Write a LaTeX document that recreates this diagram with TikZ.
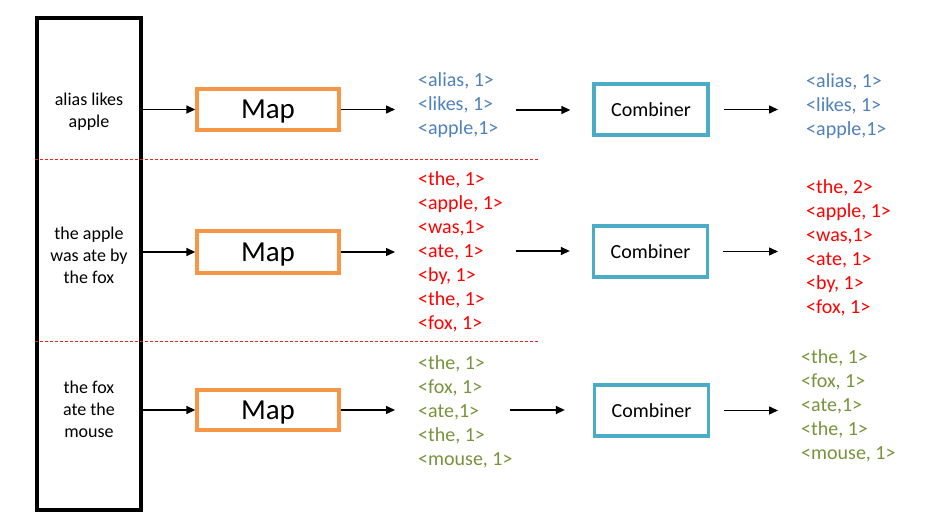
\documentclass[tikz,border=0pt]{standalone}
\usepackage{fontspec}
\setmainfont{Carlito}
\usetikzlibrary{arrows.meta}
\definecolor{maporange}{HTML}{F79646}
\definecolor{combblue}{HTML}{4BACC6}
\definecolor{kvblue}{HTML}{4F81BD}
\definecolor{kvred}{HTML}{FF0000}
\definecolor{kvgreen}{HTML}{77933C}
\definecolor{sepred}{HTML}{F02020}
\begin{document}
\begin{tikzpicture}[x=1pt,y=-1pt,
 srcbox/.style={draw=black, line width=3.8pt, minimum width=104pt, minimum height=492pt, inner sep=0pt},
 srctext/.style={align=center, inner sep=0pt, font=\fontsize{18}{22}\selectfont},
 mapbox/.style={draw=maporange, line width=3.3pt, minimum width=142pt, minimum height=41pt, inner sep=0pt, text depth=0pt, font=\fontsize{29}{32}\selectfont},
 combbox/.style={draw=combblue, line width=3.3pt, minimum width=114pt, minimum height=51pt, inner sep=0pt, text depth=0pt, font=\fontsize{20}{24}\selectfont},
 kvlist/.style={align=left, anchor=west, inner sep=0pt, font=\fontsize{20}{24}\selectfont},
 arr/.style={-{Triangle[length=9pt,width=8pt]}, line width=1.4pt},
 sep/.style={draw=sepred, line width=1.1pt, dash pattern=on 3pt off 2pt}]
\useasboundingbox (0,0) rectangle (926,518);

% separators
\coordinate (e1) at (538,159.5);
\coordinate (e2) at (538,341.5);
\node[srcbox] (src) at (89,264) {};
\draw[sep] (src.west |- e1) -- (e1);
\draw[sep] (src.west |- e2) -- (e2);

% source texts
\node[srctext] (t1) at (89,112) {alias likes\\apple};
\node[srctext] (t2) at (89,255) {the apple\\was ate by\\the fox};
\node[srctext] (t3) at (89,409) {the fox\\ate the\\mouse};

% map boxes
\node[mapbox] (m1) at (268,109.5) {Map};
\node[mapbox, minimum height=42pt] (m2) at (268,252) {Map};
\node[mapbox, minimum height=40pt] (m3) at (268,410) {Map};

% map outputs
\node[kvlist, text=kvblue] (l1) at (418,105) {<alias, 1>\\<likes, 1>\\<apple,1>};
\node[kvlist, text=kvred] (l2) at (418,252) {<the, 1>\\<apple, 1>\\<was,1>\\<ate, 1>\\<by, 1>\\<the, 1>\\<fox, 1>};
\node[kvlist, text=kvgreen] (l3) at (418,411.5) {<the, 1>\\<fox, 1>\\<ate,1>\\<the, 1>\\<mouse, 1>};

% combiners
\node[combbox] (c1) at (651,109.5) {Combiner};
\node[combbox] (c2) at (650.5,251.5) {Combiner};
\node[combbox] (c3) at (651.5,410.5) {Combiner};

% combiner outputs
\node[kvlist, text=kvblue] (o1) at (806,106) {<alias, 1>\\<likes, 1>\\<apple,1>};
\node[kvlist, text=kvred] (o2) at (806,247.5) {<the, 2>\\<apple, 1>\\<was,1>\\<ate, 1>\\<by, 1>\\<fox, 1>};
\node[kvlist, text=kvgreen] (o3) at (801,405.5) {<the, 1>\\<fox, 1>\\<ate,1>\\<the, 1>\\<mouse, 1>};

% arrows source -> map
\draw[arr] (src.east |- m1) -- (m1.west);
\draw[arr] (src.east |- m2) -- (m2.west);
\draw[arr] (src.east |- m3) -- (m3.west);

% arrows map -> list
\draw[arr, shorten >=23pt] (m1.east) -- (m1.east -| l1.west);
\draw[arr, shorten >=23pt] (m2.east) -- (m2.east -| l2.west);
\draw[arr, shorten >=23pt] (m3.east) -- (m3.east -| l3.west);

% arrows list -> combiner
\coordinate (s1) at (516,110);
\coordinate (s2) at (516,251);
\coordinate (s3) at (510,410);
\draw[arr, shorten >=22pt] (s1) -- (s1 -| c1.west);
\draw[arr, shorten >=22pt] (s2) -- (s2 -| c2.west);
\draw[arr, shorten >=28pt] (s3) -- (s3 -| c3.west);

% arrows combiner -> output
\draw[arr, shorten <=14pt, shorten >=28pt] (c1.east) -- (c1.east -| o1.west);
\draw[arr, shorten <=14pt, shorten >=28pt] (c2.east) -- (c2.east -| o2.west);
\draw[arr, shorten <=14pt, shorten >=23pt] (c3.east) -- (c3.east -| o3.west);
\end{tikzpicture}
\end{document}
